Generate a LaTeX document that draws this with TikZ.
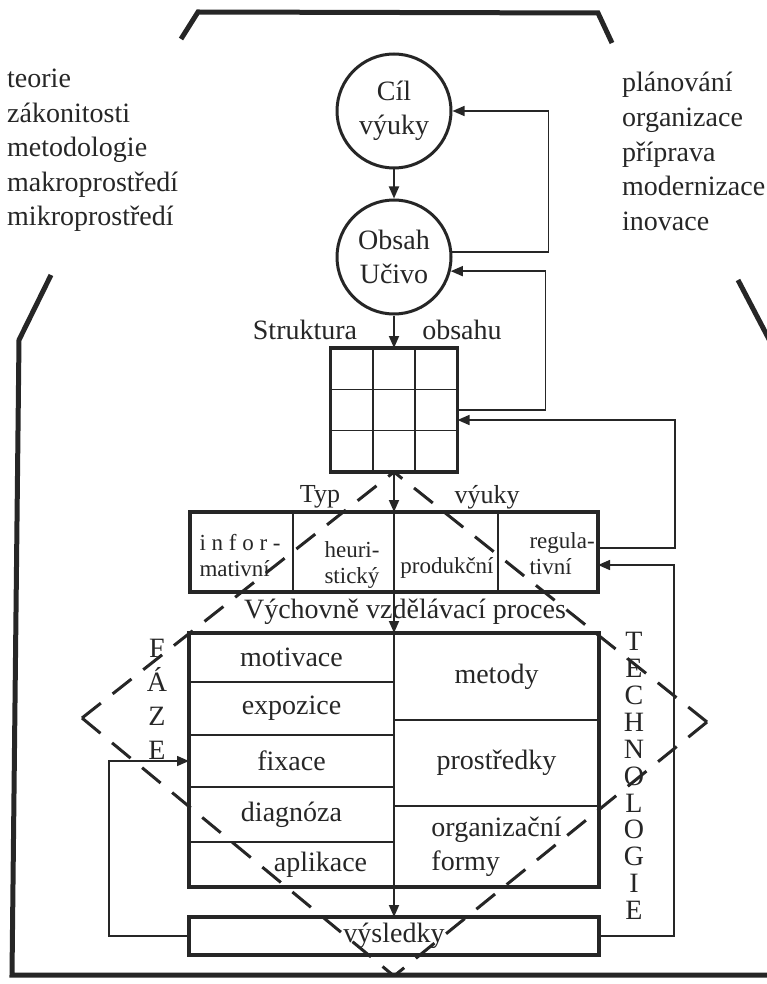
\documentclass[tikz,border=0pt]{standalone}
\usepackage{fontspec}
\setmainfont{Liberation Serif}
\usetikzlibrary{arrows.meta,chains,positioning,fit,calc}
\colorlet{ink}{black!85}

\begin{document}
\begin{tikzpicture}[
		x=1pt, y=-1pt,
		node distance = 0pt,
		every node/.style={ink, font=\fontsize{28}{34}\selectfont},
		Frame/.style={line width=5pt, ink},
		Box/.style={draw=ink, line width=3.5pt, inner sep=0pt, outer sep=0pt},
		Cell/.style={draw=ink, line width=1.5pt, inner sep=0pt, outer sep=0pt, on chain},
		Round/.style={circle, draw=ink, line width=3pt, minimum size=114pt,
			inner sep=0pt, align=center},
		Link/.style={draw=ink, line width=1.8pt, -{Triangle[length=12pt, width=10pt]}},
		Dash/.style={draw=ink, line width=3pt, dash pattern=on 24pt off 15pt},
		Small/.style={font=\fontsize{23}{26}\selectfont},
		]
		\useasboundingbox (0,0) rectangle (767,984);
		% frame
		\draw[Frame] (181,39) -- (198,12) -- (598,13) -- (612,43);
		\draw[Frame] (51,275) -- (19,340) -- (12,975) -- (767,975);
		\draw[Frame] (738,280) -- (772,345);
		
		% side texts
		\node[anchor=north west, inner sep=0pt, align=left,
			font=\fontsize{28}{34.5}\selectfont] (theory) at (7,69)
			{teorie\\zákonitosti\\metodologie\\makroprostředí\\mikroprostředí};
		\node[anchor=north west, inner sep=0pt, align=left,
			font=\fontsize{28}{34.7}\selectfont] (practice) at (622,72)
			{plánování\\organizace\\příprava\\modernizace\\inovace};
		
		% goal and content
		\node[Round] (cil) at (394,111) {Cíl\\výuky};
		\node[Round] (obsah) at (394,257) {Obsah\\Učivo};
		
		\node[Box, minimum width=127pt, minimum height=124pt] (grid) at (394,410) {};
		\foreach \f in {1,2} {
			\draw[ink, line width=1.5pt] ($(grid.north west)!\f/3!(grid.north east)$)
				-- ($(grid.south west)!\f/3!(grid.south east)$);
			\draw[ink, line width=1.5pt] ($(grid.north west)!\f/3!(grid.south west)$)
				-- ($(grid.north east)!\f/3!(grid.south east)$);
		}
		\node (struktura) at (305,330) {Struktura};
		\node (obsahu) at (462,330) {obsahu};
		
		% type of teaching
		\begin{scope}[start chain=going right]
			\node[Cell, minimum width=103pt, minimum height=80pt] (t1) at (241.5,552) {};
			\node[Cell, minimum width=101pt, minimum height=80pt] (t2) {};
			\node[Cell, minimum width=104pt, minimum height=80pt] (t3) {};
			\node[Cell, minimum width=100pt, minimum height=80pt] (t4) {};
		\end{scope}
		\node[Box, fit=(t1)(t4)] (typ) {};
		\node[Small, align=left, anchor=west] (info) at (196,556) {i n f o r -\\mativní};
		\node[Small, align=center] (heur) at (352,565) {heuri-\\stický};
		\node[Small] (prod) at (447,568) {produkční};
		\node[Small, align=left, anchor=west] (reg) at (526,554) {regula-\\tivní};
		\node[font=\fontsize{26}{30}\selectfont] (typlabel) at (320,497) {Typ};
		\node[font=\fontsize{26}{30}\selectfont] (vyuky) at (487,497) {výuky};
		
		% process
		\node (proces) at (405,612) {Výchovně vzdělávací proces};
		\begin{scope}[start chain=going below]
			\node[Cell, minimum width=205pt, minimum height=49pt] (l1) at (291.5,657.5) {motivace};
			\node[Cell, minimum width=205pt, minimum height=53pt] (l2) {expozice};
			\node[Cell, minimum width=205pt, minimum height=52pt] (l3) {fixace};
			\node[Cell, minimum width=205pt, minimum height=55pt] (l4) {diagnóza};
			\node[Cell, minimum width=205pt, minimum height=45pt] (l5) {\hspace*{58pt}aplikace};
		\end{scope}
		\begin{scope}[start chain=going below]
			\node[Cell, minimum width=205pt, minimum height=87pt] (r1) at (496.5,676.5) {metody};
			\node[Cell, minimum width=205pt, minimum height=86pt] (r2) {prostředky};
			\node[Cell, minimum width=205pt, minimum height=81pt, align=left] (r3) {organizační\\formy};
		\end{scope}
		\node[Box, fit=(l1)(r3)] (vvp) {};
		
		\node[Box, minimum width=410pt, minimum height=38pt] (vysl) at (394,936) {výsledky};
		
		% connectors
		\draw[Link] (cil) -- (obsah);
		\draw[Link] (obsah) -- (grid);
		\draw[Link] (grid) -- (typ);
		\draw[Link] (typ) -- (vvp);
		\draw[Link] (vvp) -- (vysl);
		
		% feedback
		\draw[Link, line width=1.5pt] (obsah.5) -- ++(96,0) |- (cil.east);
		\draw[Link, line width=1.5pt] (grid.east) -- ++(88,0) |- (obsah.-14);
		\draw[Link, line width=1.5pt] ([yshift=4pt]typ.east) -- ++(77,0) |- ([yshift=-10pt]grid.east);
		\draw[Link, line width=1.5pt] (vysl.east) -- ++(75,0) |- ([yshift=-13pt]typ.east);
		\draw[Link, line width=1.5pt] (vysl.west) -- ++(-80,0) |- (l3.west);
		
		% phases and technology
		\coordinate (dL) at (82,718);
		\coordinate (dR) at (707,722);
		\coordinate (dB) at (394,976);
		\draw[Dash] (dL) -- (grid.south);
		\draw[Dash] (dL) -- (dB);
		\draw[Dash] (dR) -- (grid.south);
		\draw[Dash] (dR) -- (dB);
		\node[align=center, font=\fontsize{28}{34}\selectfont] (faze) at (157,699) {F\\Á\\Z\\E};
		\node[align=center, font=\fontsize{28}{26.9}\selectfont] (tech) at (634,776)
			{T\\E\\C\\H\\N\\O\\L\\O\\G\\I\\E};
		
	\end{tikzpicture}
\end{document}
